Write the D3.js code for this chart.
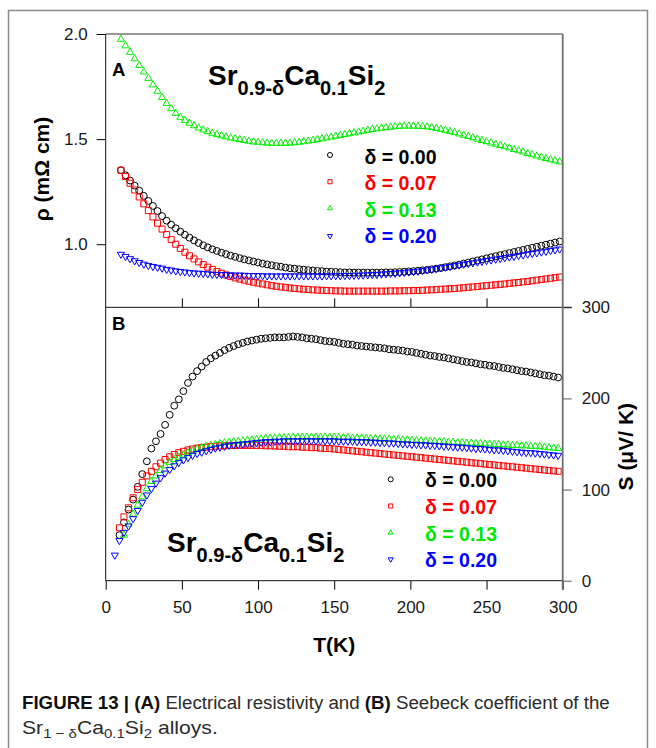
<!DOCTYPE html>
<html>
<head>
<meta charset="utf-8">
<script src="https://cdn.jsdelivr.net/npm/d3@7"></script>
<style>
body { margin: 0; background: #fff; }
svg text { font-family: "Liberation Sans", Arial, sans-serif; }
</style>
</head>
<body>
<div id="vis-div"></div>
<script>
// temperature grid (K) of the resistivity panel (A)
var tempA = [10,13,16,19,22,25,28,31,34,37,
    40,43,46,49,52,55,58,61,64,67,
    70,73,76,79,82,85,88,91,94,97,
    100,103,106,109,112,115,118,121,124,127,
    130,133,136,139,142,145,148,151,154,157,
    160,163,166,169,172,175,178,181,184,187,
    190,193,196,199,202,205,208,211,214,217,
    220,223,226,229,232,235,238,241,244,247,
    250,253,256,259,262,265,268,271,274,277,
    280,283,286,289,292,295,298];

// resistivity (mOhm cm)
var rhoD000 = [1.352,1.328,1.303,1.279,1.255,1.23,1.206,1.182,1.158,1.134,
    1.112,1.093,1.076,1.06,1.045,1.031,1.018,1.006,0.995,0.985,
    0.976,0.968,0.96,0.953,0.946,0.94,0.934,0.928,0.923,0.918,
    0.913,0.908,0.904,0.9,0.896,0.893,0.889,0.886,0.884,0.881,
    0.879,0.877,0.875,0.873,0.872,0.87,0.869,0.868,0.867,0.866,
    0.866,0.865,0.865,0.865,0.865,0.865,0.865,0.865,0.866,0.866,
    0.867,0.868,0.869,0.871,0.872,0.874,0.876,0.878,0.881,0.884,
    0.887,0.891,0.895,0.899,0.903,0.908,0.913,0.918,0.923,0.928,
    0.933,0.938,0.943,0.948,0.953,0.958,0.963,0.968,0.973,0.978,
    0.983,0.988,0.993,0.998,1.003,1.008,1.013];
var rhoD007 = [1.352,1.322,1.29,1.258,1.225,1.192,1.16,1.13,1.1,1.072,
    1.046,1.022,1.0,0.98,0.962,0.945,0.93,0.916,0.903,0.891,
    0.88,0.87,0.862,0.854,0.847,0.84,0.834,0.829,0.824,0.819,
    0.815,0.811,0.807,0.803,0.8,0.797,0.795,0.792,0.79,0.788,
    0.786,0.785,0.783,0.782,0.781,0.78,0.779,0.778,0.778,0.777,
    0.777,0.777,0.777,0.777,0.777,0.777,0.777,0.777,0.777,0.778,
    0.778,0.778,0.779,0.779,0.78,0.78,0.781,0.782,0.783,0.784,
    0.786,0.787,0.788,0.789,0.791,0.793,0.795,0.797,0.799,0.801,
    0.803,0.805,0.807,0.809,0.811,0.814,0.816,0.818,0.821,0.823,
    0.826,0.829,0.832,0.835,0.838,0.841,0.844];
var rhoD013 = [1.975,1.944,1.913,1.882,1.851,1.82,1.789,1.758,1.728,1.698,
    1.67,1.645,1.623,1.604,1.589,1.576,1.564,1.553,1.544,1.536,
    1.528,1.522,1.516,1.511,1.506,1.502,1.498,1.494,1.49,1.487,
    1.485,1.483,1.481,1.48,1.48,1.48,1.48,1.481,1.483,1.485,
    1.488,1.491,1.494,1.498,1.502,1.506,1.51,1.514,1.518,1.522,
    1.526,1.53,1.534,1.538,1.542,1.546,1.549,1.552,1.555,1.557,
    1.559,1.561,1.562,1.562,1.562,1.561,1.56,1.558,1.555,1.551,
    1.547,1.542,1.537,1.531,1.525,1.519,1.513,1.507,1.5,1.494,
    1.488,1.482,1.476,1.47,1.464,1.458,1.451,1.445,1.439,1.432,
    1.426,1.42,1.414,1.408,1.402,1.397,1.392];
var rhoD020 = [0.952,0.942,0.931,0.921,0.913,0.905,0.899,0.894,0.89,0.886,
    0.88,0.877,0.873,0.87,0.868,0.865,0.863,0.862,0.861,0.859,
    0.857,0.856,0.856,0.855,0.854,0.853,0.853,0.852,0.851,0.851,
    0.85,0.85,0.849,0.849,0.849,0.849,0.849,0.849,0.849,0.849,
    0.849,0.849,0.849,0.849,0.849,0.85,0.85,0.85,0.85,0.851,
    0.851,0.852,0.852,0.853,0.854,0.855,0.856,0.858,0.859,0.861,
    0.862,0.864,0.866,0.868,0.87,0.872,0.875,0.878,0.881,0.884,
    0.888,0.891,0.894,0.898,0.901,0.905,0.908,0.911,0.915,0.918,
    0.922,0.925,0.929,0.932,0.936,0.939,0.942,0.946,0.949,0.953,
    0.956,0.959,0.963,0.966,0.97,0.973,0.977];

// temperature grid (K) of the Seebeck panel (B)
var tempB = [6,9,12,15,18,21,24,27,30,33,
    36,39,42,45,48,51,54,57,60,63,
    66,69,72,75,78,81,84,87,90,93,
    96,99,102,105,108,111,114,117,120,123,
    126,129,132,135,138,141,144,147,150,153,
    156,159,162,165,168,171,174,177,180,183,
    186,189,192,195,198,201,204,207,210,213,
    216,219,222,225,228,231,234,237,240,243,
    246,249,252,255,258,261,264,267,270,273,
    276,279,282,285,288,291,294,297];

// Seebeck coefficient (uV/K)
var seebD000 = [null,50,64,78,89,103,117,131,145,153,
    161,171,182,192,199,208,217,224,230,235,
    240,244,247,250,253,255.5,257.5,259.5,261,262.5,
    263.5,264.5,265.5,266,266.5,267,267,267,267.5,268,
    267.5,267,266,265.5,265,264,263,262.5,262,261,
    260,259.5,259,258,257.5,257,256.5,256,255.5,255,
    254,253.5,253,252.5,251.5,251,250,249,248,247,
    246.5,245.5,245,244,243,242,241,240,239.5,238.5,
    237.5,237,236,235.5,234.5,233.5,233,232,231,230,
    229.5,228.5,227.5,226.5,225.5,225,224,223];
var seebD007 = [null,58,70,80,91,100,108,115,120,125,
    129,133,136,138.5,140.5,142,143.5,144.5,145.5,146,
    146.5,147,147.5,148,148,148.5,148.5,148.5,148.5,148.5,
    148.5,148.5,148.5,148,148,148,147.5,147.5,147,147,
    147,146.5,146.5,146,146,145.5,145,145,144.5,144,
    143.5,143,142.5,142,141.5,141,140.5,140,139.5,139,
    138.5,138,137.5,137,136.5,136,135.5,135,134.5,134,
    133.5,133,132.5,132,131.5,131,130.5,130,129.5,129,
    128.5,128,127.5,127,126.5,126,125.5,125,124.5,124,
    123.5,123,122.5,122,121.5,121,120.5,120];
var seebD013 = [null,null,50,62,73,83,92,101,109,115,
    121,126,130,133,135.5,138,140.5,142.5,144.5,146,
    147.5,148.5,149.5,150.5,151.5,152,152.5,153,153.5,154,
    154.5,155,155.5,156,156.5,156.5,157,157,157,157.5,
    157.5,157.5,157.5,157.5,157.5,157.5,157.5,157.5,157.5,157,
    157,157,156.5,156.5,156.5,156,156,156,155.5,155.5,
    155.5,155,155,154.5,154.5,154,154,153.5,153.5,153,
    153,152.5,152.5,152,152,151.5,151.5,151,151,150.5,
    150.5,150,150,149.5,149.5,149,149,148.5,148.5,148,
    148,147.5,147.5,147,146.5,146,145.5,145];
var seebD020 = [28,44,53,60,68,77,86,94,101,107,
    113,118,122,126,129.5,132.5,135,137.5,139.5,141,
    142.5,144,145.5,146.5,147.5,148.5,149,149.5,150,150.5,
    151,151.5,152,152.5,152.5,153,153,153.5,153.5,153.5,
    153.5,153.5,153.5,153.5,153.5,153.5,153.5,153.5,153.5,153,
    153,153,153,152.5,152.5,152.5,152,152,151.5,151.5,
    151,151,150.5,150,150,149.5,149.5,149,149,148.5,
    148.5,148,147.5,147.5,147,146.5,146.5,146,145.5,145,
    145,144.5,144,143.5,143.5,143,142.5,142,141.5,141,
    140.5,140.5,140,139.5,139,138.5,138,137.5];

var legendLabels = ["δ = 0.00", "δ = 0.07", "δ = 0.13", "δ = 0.20"];
var tickT = [0, 50, 100, 150, 200, 250, 300];
var tickRho = [1.0, 1.5, 2.0];
var tickS = [0, 100, 200, 300];

var series = [
    { label: legendLabels[0], color: "#000000", text: "#000000", sym: "circle", rho: rhoD000, s: seebD000 },
    { label: legendLabels[1], color: "#ff0000", text: "#ff0000", sym: "square", rho: rhoD007, s: seebD007 },
    { label: legendLabels[2], color: "#00f000", text: "#00e600", sym: "up", rho: rhoD013, s: seebD013 },
    { label: legendLabels[3], color: "#0000ff", text: "#0000ff", sym: "down", rho: rhoD020, s: seebD020 }
];

var width = 656, height = 748;
var svg = d3.select("#vis-div").append("svg").attr("width", width).attr("height", height);

// outer figure frame
svg.append("rect")
    .attr("x", 8.5).attr("y", 10.5).attr("width", 639).attr("height", 770)
    .attr("fill", "none").attr("stroke", "#8a8a8a").attr("stroke-width", 1.5);

var x = d3.scaleLinear().domain([0, 300]).range([105.7, 562.7]);
var yA = d3.scaleLinear().domain([0.7, 2.0]).range([307.3, 34]);
var yB = d3.scaleLinear().domain([0, 300]).range([580.7, 307.3]);

function symPath(type, size) {
    var t = { circle: d3.symbolCircle, square: d3.symbolSquare, up: d3.symbolTriangle, down: d3.symbolTriangle }[type];
    return d3.symbol().type(t).size(size)();
}
var markSize = { circle: 37, square: 36, up: 22, down: 22 };
var legSize = { circle: 20, square: 17, up: 11, down: 11 };

function drawPoints(g, ts, vals, ys, s) {
    var pts = ts.map((t, i) => [t, vals[i]]).filter(d => d[1] != null);
    g.append("g").selectAll("path").data(pts).enter().append("path")
        .attr("d", symPath(s.sym, markSize[s.sym]))
        .attr("transform", d => `translate(${x(d[0])},${ys(d[1])})` + (s.sym == "down" ? " rotate(180)" : ""))
        .attr("fill", "none").attr("stroke", s.color).attr("stroke-width", 1);
}

series.forEach(s => drawPoints(svg, tempA, s.rho, yA, s));
series.forEach(s => drawPoints(svg, tempB, s.s, yB, s));

// axes and frames
var tickStyle = g => g.selectAll("text").attr("font-size", 17).attr("fill", "#1a1a1a")
    .attr("font-family", "'Liberation Sans', Arial, sans-serif");

svg.append("g").attr("transform", "translate(105.7,0)")
    .call(d3.axisLeft(yA).tickValues(tickRho).tickSize(9).tickPadding(9).tickFormat(d3.format(".1f")))
    .call(g => g.select(".domain").remove())
    .call(tickStyle);

svg.append("g").attr("transform", "translate(0,307.3)")
    .call(d3.axisTop(x).tickValues([50, 100, 150, 200, 250]).tickSize(9).tickFormat(""))
    .call(g => g.select(".domain").remove());

svg.append("g").attr("transform", "translate(0,580.7)")
    .call(d3.axisBottom(x).tickValues(tickT).tickSize(9).tickPadding(11))
    .call(g => g.select(".domain").remove())
    .call(tickStyle);

svg.append("g").attr("transform", "translate(562.7,0)")
    .call(d3.axisRight(yB).tickValues(tickS).tickSize(9).tickPadding(10))
    .call(g => g.select(".domain").remove())
    .call(tickStyle)
    .call(g => g.selectAll("line").attr("stroke", "#555"));

var frame = svg.append("g").attr("fill", "none");
frame.append("path").attr("d", "M105.7,34H562.7").attr("stroke", "#333");
frame.append("path").attr("d", "M105.7,34V580.7").attr("stroke", "#111");
frame.append("path").attr("d", "M105.7,307.3H571.7").attr("stroke", "#111");
frame.append("path").attr("d", "M105.7,580.7H562.7").attr("stroke", "#111");
frame.append("path").attr("d", "M562.7,34V590").attr("stroke", "#6e6e6e").attr("stroke-width", 1.8);

// panel letters
svg.append("text").attr("x", 112).attr("y", 76).attr("font-size", 18.5).attr("font-weight", "bold").text("A");
svg.append("text").attr("x", 112).attr("y", 330).attr("font-size", 18.5).attr("font-weight", "bold").text("B");

function formula(x0, y0) {
    var t = svg.append("text").attr("x", x0).attr("y", y0)
        .attr("font-weight", "bold").attr("font-size", 28).attr("fill", "#000");
    t.append("tspan").text("Sr");
    t.append("tspan").attr("font-size", 20).attr("dy", 10).text("0.9-δ");
    t.append("tspan").attr("dy", -10).text("Ca");
    t.append("tspan").attr("font-size", 20).attr("dy", 10).text("0.1");
    t.append("tspan").attr("dy", -10).text("Si");
    t.append("tspan").attr("font-size", 20).attr("dy", 10).text("2");
}
formula(208, 85);
formula(167, 551.7);

function legend(symX, textX, symYs, baseYs) {
    series.forEach((s, i) => {
        svg.append("path")
            .attr("d", symPath(s.sym, legSize[s.sym]))
            .attr("transform", `translate(${symX},${symYs[i]})` + (s.sym == "down" ? " rotate(180)" : ""))
            .attr("fill", "none").attr("stroke", s.color).attr("stroke-width", 1);
        svg.append("text").attr("x", textX).attr("y", baseYs[i])
            .attr("font-size", 19.5).attr("font-weight", "bold").attr("fill", s.text).text(s.label);
    });
}
legend(330, 364.5, [155, 181.7, 208.3, 236], [163.5, 190, 216.5, 243]);
legend(390.7, 425, [479.3, 506, 532.7, 559.3], [487.3, 514, 540.5, 567]);

// axis titles
svg.append("text").attr("transform", "translate(48.5,169) rotate(-90)")
    .attr("text-anchor", "middle").attr("font-size", 21).attr("font-weight", "bold").text("ρ (mΩ cm)");
svg.append("text").attr("transform", "translate(632.5,446.7) rotate(-90)")
    .attr("text-anchor", "middle").attr("font-size", 21).attr("font-weight", "bold").text("S (μV/ K)");
svg.append("text").attr("x", 334.2).attr("y", 652)
    .attr("text-anchor", "middle").attr("font-size", 21).attr("font-weight", "bold").text("T(K)");

// caption, squeezed horizontally like the condensed journal face
var capFont = "'Liberation Sans Narrow', 'Liberation Sans', Arial, sans-serif";
function caption(y0, targetW, build) {
    var g = svg.append("g");
    var t = g.append("text").attr("x", 0).attr("y", 0).attr("font-size", 19)
        .attr("fill", "#2b2b2b").style("font-family", capFont);
    build(t);
    var w = t.node().getComputedTextLength();
    g.attr("transform", `translate(22,${y0}) scale(${targetW / w},1)`);
}
caption(709, 588, t => {
    t.append("tspan").attr("font-weight", "bold").attr("fill", "#111").text("FIGURE 13 | (A)");
    t.append("tspan").text(" Electrical resistivity and ");
    t.append("tspan").attr("font-weight", "bold").attr("fill", "#111").text("(B)");
    t.append("tspan").text(" Seebeck coefficient of the");
});
caption(734, 196, t => {
    t.append("tspan").text("Sr");
    t.append("tspan").attr("font-size", 13.5).attr("dy", 4).text("1 − δ");
    t.append("tspan").attr("dy", -4).text("Ca");
    t.append("tspan").attr("font-size", 13.5).attr("dy", 4).text("0.1");
    t.append("tspan").attr("dy", -4).text("Si");
    t.append("tspan").attr("font-size", 13.5).attr("dy", 4).text("2");
    t.append("tspan").attr("dy", -4).text(" alloys.");
});
</script>
</body>
</html>
